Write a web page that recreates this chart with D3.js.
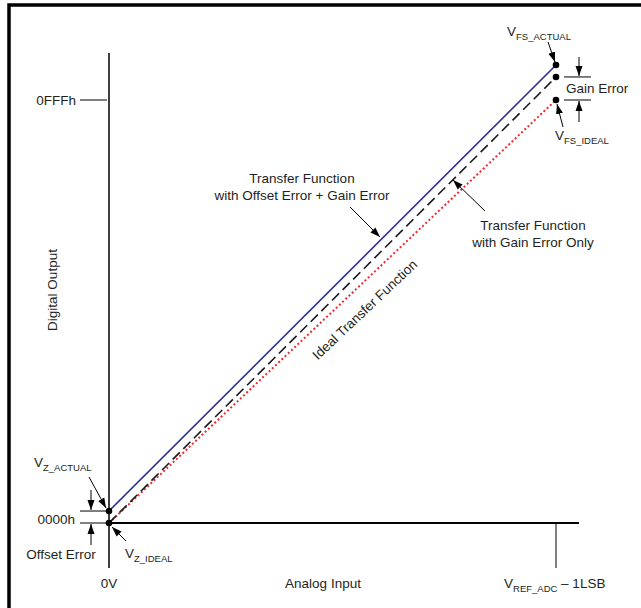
<!DOCTYPE html>
<html>
<head>
<meta charset="utf-8">
<script src="https://cdn.jsdelivr.net/npm/d3@7"></script>
<style>
  body { margin: 0; background: #fff; }
  text { font-family: "Liberation Sans", Arial, sans-serif; fill: #231f20; }
</style>
</head>
<body>
<div id="chart"></div>
<script>
// valeurs du graphique (entrée normalisée 0..1, sortie en codes)
var inputTicks = ["0V", "V_REF_ADC – 1LSB"];
var inputValues = [0, 1];
var outputTicks = ["0000h", "0FFFh"];
var outputValues = [0, 4095];

var idealLine = [[0, 0], [1, 4095]];
var gainOnlyLine = [[0, 0], [1, 4318]];
var offsetGainLine = [[0, 116], [1, 4434]];

var W = 641, H = 608, FS = 13.5;

var svg = d3.select("#chart").append("svg")
    .attr("width", W)
    .attr("height", H);

// cadre
svg.append("rect")
    .attr("x", 9).attr("y", 5)
    .attr("width", W + 20).attr("height", H + 20)
    .attr("fill", "none")
    .attr("stroke", "#000")
    .attr("stroke-width", 3.5);

var x = d3.scaleLinear().domain([0, 1]).range([109, 556]);
var y = d3.scaleLinear().domain([0, 4095]).range([523, 100]);

// pointes de flèche
svg.append("defs").append("marker")
    .attr("id", "arr")
    .attr("viewBox", "0 0 10 10")
    .attr("refX", 10).attr("refY", 5)
    .attr("markerWidth", 10).attr("markerHeight", 10)
    .attr("markerUnits", "userSpaceOnUse")
    .attr("orient", "auto")
    .append("path")
    .attr("d", "M0,1.5 L10,5 L0,8.5 Z")
    .attr("fill", "#000");

// axes
svg.append("line")
    .attr("x1", x(0)).attr("x2", x(0))
    .attr("y1", 53).attr("y2", 568)
    .attr("stroke", "#000").attr("stroke-width", 1.5);
svg.append("line")
    .attr("x1", x(0)).attr("x2", 579)
    .attr("y1", y(0)).attr("y2", y(0))
    .attr("stroke", "#000").attr("stroke-width", 2);
svg.append("line")
    .attr("x1", x(1)).attr("x2", x(1))
    .attr("y1", y(0)).attr("y2", 568)
    .attr("stroke", "#000").attr("stroke-width", 1);
svg.append("line")
    .attr("x1", 80).attr("x2", x(0) - 2)
    .attr("y1", y(4095)).attr("y2", y(4095))
    .attr("stroke", "#000").attr("stroke-width", 1);

// lignes de transfert
var line = d3.line().x(function(d) { return x(d[0]); }).y(function(d) { return y(d[1]); });

svg.append("path").datum(idealLine)
    .attr("d", line)
    .attr("fill", "none")
    .attr("stroke", "#ee2a2e")
    .attr("stroke-width", 2)
    .attr("stroke-dasharray", "2,2.4");

svg.append("path").datum(gainOnlyLine)
    .attr("d", line)
    .attr("fill", "none")
    .attr("stroke", "#1a1a1a")
    .attr("stroke-width", 1.6)
    .attr("stroke-dasharray", "10,5");

svg.append("path").datum(offsetGainLine)
    .attr("d", line)
    .attr("fill", "none")
    .attr("stroke", "#2e3192")
    .attr("stroke-width", 1.6);

// points
var pts = [idealLine[0], offsetGainLine[0], idealLine[1], gainOnlyLine[1], offsetGainLine[1]];
svg.selectAll(".pt").data(pts).enter().append("circle")
    .attr("class", "pt")
    .attr("cx", function(d) { return x(d[0]); })
    .attr("cy", function(d) { return y(d[1]); })
    .attr("r", 3.3)
    .attr("fill", "#000");

// texte avec indice
function subText(tx, ty, main, sub, rest, anchor) {
    var t = svg.append("text")
        .attr("x", tx).attr("y", ty)
        .attr("font-size", FS)
        .attr("text-anchor", anchor || "start");
    t.append("tspan").text(main);
    t.append("tspan").attr("dy", 4).attr("font-size", 9.5).text(sub);
    if (rest) t.append("tspan").attr("dy", -4).text(rest);
    return t;
}

function arrow(x1, y1, x2, y2) {
    svg.append("line")
        .attr("x1", x1).attr("y1", y1)
        .attr("x2", x2).attr("y2", y2)
        .attr("stroke", "#000").attr("stroke-width", 1)
        .attr("marker-end", "url(#arr)");
}

function hline(x1, x2, yy) {
    svg.append("line")
        .attr("x1", x1).attr("x2", x2)
        .attr("y1", yy).attr("y2", yy)
        .attr("stroke", "#000").attr("stroke-width", 1);
}

function label(tx, ty, s, anchor) {
    return svg.append("text")
        .attr("x", tx).attr("y", ty)
        .attr("text-anchor", anchor || "middle").attr("font-size", FS)
        .text(s);
}

// étiquettes des axes
label(76, y(outputValues[1]) + 5, outputTicks[1], "end");
label(75, y(outputValues[0]) + 1, outputTicks[0], "end");
label(x(inputValues[0]), 588, inputTicks[0]);
subText(504, 588, "V", "REF_ADC", " – 1LSB");

label(323, 588, "Analog Input");
svg.append("text")
    .attr("transform", "translate(57,290) rotate(-90)")
    .attr("text-anchor", "middle").attr("font-size", FS)
    .text("Digital Output");

// erreur d'offset
hline(80, 107, y(offsetGainLine[0][1]));
hline(80, 107, y(0));
arrow(91, 490, 91, y(offsetGainLine[0][1]) - 1);
arrow(91, 545, 91, y(0) + 1);
label(61, 559, "Offset Error");
subText(34, 467, "V", "Z_ACTUAL");
arrow(89, 477, 106, 508);
subText(125, 558, "V", "Z_IDEAL");
arrow(126, 541, 112, 527);

// erreur de gain
hline(564, 591, y(gainOnlyLine[1][1]));
hline(564, 591, y(4095));
arrow(579, 57, 579, y(gainOnlyLine[1][1]) - 1);
arrow(579, 122, 579, y(4095) + 1);
label(566, 93, "Gain Error", "start");
subText(507, 36, "V", "FS_ACTUAL");
arrow(548, 42, 555, 62);
subText(555, 140, "V", "FS_IDEAL");
arrow(563, 127, 557, 104);

// annotations des courbes
label(302, 183, "Transfer Function");
label(302, 200, "with Offset Error + Gain Error");
arrow(350, 207, 380, 237);

label(533, 230, "Transfer Function");
label(533, 247, "with Gain Error Only");
arrow(485, 211, 453, 180);

var ang = Math.atan2(y(0) - y(4095), x(1) - x(0)) * 180 / Math.PI;
svg.append("text")
    .attr("transform", "translate(368,313) rotate(" + (-ang) + ")")
    .attr("text-anchor", "middle").attr("font-size", FS)
    .text("Ideal Transfer Function");
</script>
</body>
</html>
